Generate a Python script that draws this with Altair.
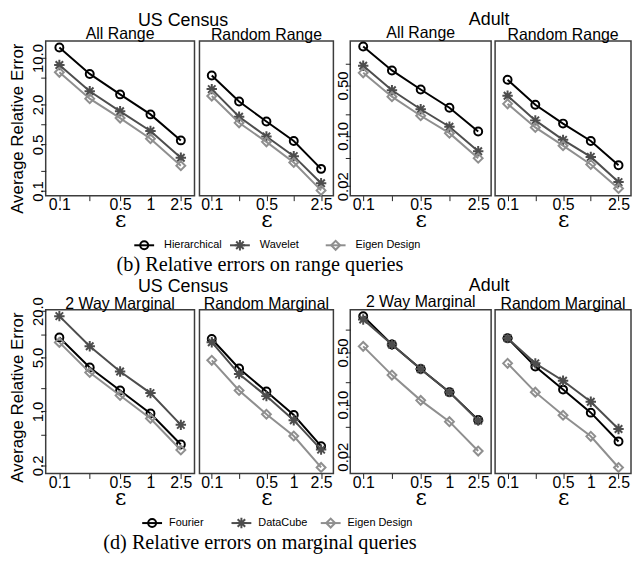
import json
import altair as alt
import pandas as pd

# ---------------- data ----------------
eps_labels = ["0.1", "0.25", "0.5", "1", "2.5"]
eps_pos = [1, 2, 3, 4, 5]

range_methods = ["Hierarchical", "Wavelet", "Eigen Design"]
marg_methods = ["Fourier", "DataCube", "Eigen Design"]

# range queries
us_all_hier = [14.4, 5.77, 2.84, 1.42, 0.577]
us_all_wav = [7.87, 3.16, 1.58, 0.80, 0.316]
us_all_eig = [6.1, 2.45, 1.25, 0.61, 0.24]
us_rand_hier = [5.48, 2.22, 1.11, 0.566, 0.215]
us_rand_wav = [3.41, 1.31, 0.66, 0.334, 0.131]
us_rand_eig = [2.68, 1.06, 0.548, 0.268, 0.102]
ad_all_hier = [1.74, 0.81, 0.44, 0.246, 0.115]
ad_all_wav = [0.94, 0.43, 0.234, 0.134, 0.061]
ad_all_eig = [0.75, 0.35, 0.19, 0.109, 0.049]
ad_rand_hier = [0.60, 0.27, 0.148, 0.085, 0.039]
ad_rand_wav = [0.36, 0.164, 0.088, 0.051, 0.0228]
ad_rand_eig = [0.278, 0.131, 0.073, 0.040, 0.0186]

# marginal queries
us_2w_four = [9.1, 3.71, 1.87, 0.94, 0.372]
us_2w_dc = [17.2, 7.0, 3.30, 1.73, 0.67]
us_2w_eig = [7.86, 3.2, 1.61, 0.81, 0.316]
us_rm_four = [8.7, 3.6, 1.81, 0.90, 0.355]
us_rm_dc = [7.9, 3.05, 1.58, 0.77, 0.32]
us_rm_eig = [4.6, 1.87, 0.92, 0.48, 0.188]
ad_2w_four = [1.54, 0.64, 0.30, 0.147, 0.062]
ad_2w_dc = [1.39, 0.64, 0.30, 0.147, 0.061]
ad_2w_eig = [0.605, 0.249, 0.114, 0.059, 0.0238]
ad_rm_four = [0.78, 0.324, 0.159, 0.078, 0.032]
ad_rm_dc = [0.78, 0.358, 0.209, 0.109, 0.047]
ad_rm_eig = [0.358, 0.147, 0.072, 0.0375, 0.0143]

# y tick values and which of them carry labels
us_range_ticks = [0.1, 0.2, 0.5, 1, 2, 5, 10]
us_range_labeled = [0.1, 0.5, 2, 10]
ad_ticks = [0.02, 0.05, 0.1, 0.2, 0.5, 1]
ad_labeled = [0.02, 0.1, 0.5]
us_marg_ticks = [0.2, 0.5, 1, 2, 5, 10, 20]
us_marg_labeled = [0.2, 1, 5, 20]

# ---------------- style ----------------
colors = ["#000000", "#4d4d4d", "#8f8f8f"]
STAR = "M-1,0L1,0M0,-1L0,1M-0.72,-0.72L0.72,0.72M-0.72,0.72L0.72,-0.72"
shapes = ["circle", STAR, "diamond"]
sizes = [64, 110, 80]
SANS = "Liberation Sans"
YTITLE_SIZE = 17
YTITLE_LEN = 176


def panel(series, methods, title, width, height, ydom, yticks, ylabeled, yfmt,
          xshown, show_y, ytitle="", title_offset=-2):
    xexpr = "indexof(%s, datum.value) >= 0 ? %s[datum.value - 1] : ''" % (
        json.dumps(xshown), json.dumps(eps_labels))
    x = alt.X("pos:Q",
              scale=alt.Scale(domain=[0.55, 5.45], nice=False, zero=False),
              axis=alt.Axis(values=eps_pos, labelExpr=xexpr, title="ε",
                            titleFont="DejaVu Serif", titleFontSize=22,
                            titleFontWeight="normal", titlePadding=-3,
                            labelFontSize=16, labelPadding=-4, tickSize=5,
                            domain=False, grid=False, labelFlush=False,
                            labelOverlap=False, tickColor="#222",
                            labelColor="black", titleColor="black"))
    if show_y:
        yexpr = "indexof(%s, datum.value) >= 0 ? format(datum.value, '%s') : ''" % (
            json.dumps(ylabeled), yfmt)
        axis_kw = dict(values=yticks, labelExpr=yexpr, labelAngle=270,
                       labelAlign="center", labelBaseline="alphabetic",
                       labelFontSize=15, labelPadding=-2, tickSize=5,
                       domain=False, grid=False, labelOverlap=False,
                       labelFlush=False, tickColor="#222", labelColor="black")
        if ytitle:
            axis_kw.update(title=ytitle, titleFontSize=YTITLE_SIZE,
                           titleFontWeight="normal", titlePadding=4,
                           titleColor="black", titleY=YTITLE_LEN / 2)
        else:
            axis_kw.update(title=None)
        yaxis = alt.Axis(**axis_kw)
    else:
        yaxis = None
    y = alt.Y("value:Q", scale=alt.Scale(type="log", domain=ydom, nice=False),
              axis=yaxis)
    layers = []
    for m, vals, c, s, sz in zip(methods, series, colors, shapes, sizes):
        df = pd.DataFrame({"pos": eps_pos, "value": vals, "method": m})
        base = alt.Chart(df).encode(x=x, y=y)
        layers.append(base.mark_line(color=c, strokeWidth=2))
        layers.append(base.mark_point(shape=s, color=c, filled=False,
                                      strokeWidth=2, size=sz, opacity=1))
    return alt.layer(*layers).properties(
        width=width, height=height,
        title=alt.TitleParams(title, fontSize=16, font=SANS, frame="group",
                              anchor="middle", fontWeight="normal",
                              offset=title_offset, color="black"))


def legend_chart(methods, d0, d1, caption, text_dx, width=432, height=24,
                 ysym=14):
    df = pd.DataFrame({"k": [0, 1, 2], "name": methods})
    x = alt.X("k:Q", scale=alt.Scale(domain=[d0, d1], nice=False, zero=False),
              axis=None)
    y = alt.value(ysym)
    layers = []
    for k, (c, s, sz) in enumerate(zip(colors, shapes, sizes)):
        d = df[df.k == k]
        b = alt.Chart(d).encode(x=x, y=y)
        layers.append(b.mark_rule(color=c, strokeWidth=2, xOffset=-10,
                                  x2Offset=10).encode(x2="k:Q"))
        layers.append(b.mark_point(shape=s, color=c, filled=False,
                                   strokeWidth=2, size=sz, opacity=1))
        layers.append(b.mark_text(align="left", baseline="middle", dx=text_dx,
                                  fontSize=11, font=SANS, color="black")
                      .encode(text="name:N"))
    return alt.layer(*layers).properties(
        width=width, height=height,
        view=alt.ViewBackground(strokeOpacity=0),
        title=alt.TitleParams(caption, orient="bottom", font="Liberation Serif",
                              fontSize=20.4, fontWeight="normal", color="black",
                              offset=0, anchor="middle"))


H_TOP = 156
H_BOT = 165
W = [150, 135, 142, 137]

p1 = panel([us_all_hier, us_all_wav, us_all_eig], range_methods, "All Range",
           W[0], H_TOP, [0.0849, 18.1], us_range_ticks, us_range_labeled, ".1f",
           [1, 3, 4, 5], True, "Average Relative Error")
p2 = panel([us_rand_hier, us_rand_wav, us_rand_eig], range_methods, "Random Range",
           W[1], H_TOP, [0.0849, 18.1], us_range_ticks, us_range_labeled, ".1f",
           [1, 3, 5], False)
p3 = panel([ad_all_hier, ad_all_wav, ad_all_eig], range_methods, "All Range",
           W[2], H_TOP, [0.01476, 2.08], ad_ticks, ad_labeled, ".2f",
           [1, 3, 5], True)
p4 = panel([ad_rand_hier, ad_rand_wav, ad_rand_eig], range_methods, "Random Range",
           W[3], H_TOP, [0.01476, 2.08], ad_ticks, ad_labeled, ".2f",
           [1, 3, 5], False)

q1 = panel([us_2w_four, us_2w_dc, us_2w_eig], marg_methods, "2 Way Marginal",
           W[0], H_BOT, [0.157, 20.8], us_marg_ticks, us_marg_labeled, ".1f",
           [1, 3, 4, 5], True, "Average Relative Error", title_offset=-15)
q2 = panel([us_rm_four, us_rm_dc, us_rm_eig], marg_methods, "Random Marginal",
           W[1], H_BOT, [0.157, 20.8], us_marg_ticks, us_marg_labeled, ".1f",
           [1, 3, 4, 5], False)
q3 = panel([ad_2w_four, ad_2w_dc, ad_2w_eig], marg_methods, "2 Way Marginal",
           W[2], H_BOT, [0.0119, 1.875], ad_ticks, ad_labeled, ".2f",
           [1, 3, 4, 5], True)
q4 = panel([ad_rm_four, ad_rm_dc, ad_rm_eig], marg_methods, "Random Marginal",
           W[3], H_BOT, [0.0119, 1.875], ad_ticks, ad_labeled, ".2f",
           [1, 3, 4, 5], False)


def block(a, b, c, d, offset):
    us = alt.hconcat(a, b, spacing=3).properties(
        title=alt.TitleParams("US Census", fontSize=18, font=SANS,
                              fontWeight="normal", color="black", offset=offset,
                              anchor="middle", dx=12))
    ad = alt.hconcat(c, d, spacing=2).properties(
        title=alt.TitleParams("Adult", fontSize=18, font=SANS,
                              fontWeight="normal", color="black", offset=offset,
                              anchor="middle", dx=6))
    return alt.hconcat(us, ad, spacing=0)


leg1 = legend_chart(range_methods, -1.029, 3.448,
                    "(b) Relative errors on range queries", 20)
leg2 = legend_chart(marg_methods, -1.192, 3.608,
                    "(d) Relative errors on marginal queries", 17)

chart = alt.vconcat(block(p1, p2, p3, p4, -5), leg1,
                    block(q1, q2, q3, q4, -1), leg2,
                    spacing=0).properties(padding=0).configure(
    font=SANS).configure_view(stroke="#3c3c3c", strokeWidth=1.5)

chart.save("out.html", embed_options={"renderer": "svg", "actions": False})
